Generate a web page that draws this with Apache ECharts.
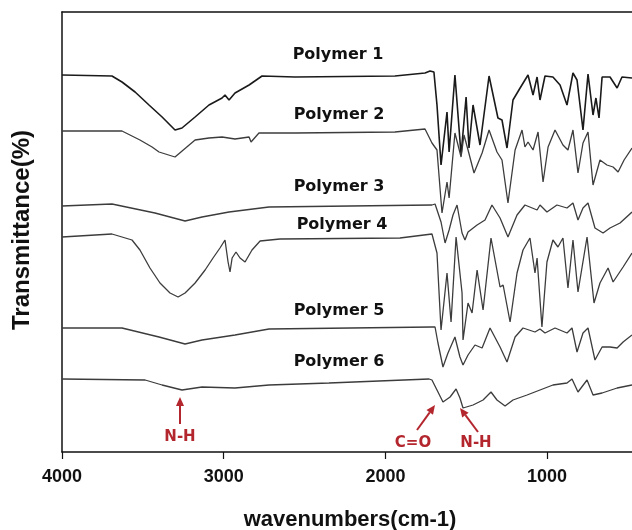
<!DOCTYPE html>
<html>
<head>
<meta charset="utf-8">
<script src="https://cdn.jsdelivr.net/npm/echarts@6/dist/echarts.min.js"></script>
<style>html,body{margin:0;padding:0;background:#fff}#c{width:632px;height:530px}</style>
</head>
<body>
<div id="c"></div>
<script>
// wavenumber (cm-1), relative transmittance (arbitrary offset units)
const polymer1 = [[4000,377],[3691,376],[3629,370],[3548,360],[3462,347],[3381,335],[3301,322],[3258,324],[3177,335],[3091,347],[3010,354],[2992,357],[2967,352],[2930,359],[2843,367],[2763,376],[2559,375],[1941,376],[1755,379],[1724,381],[1700,380],[1681,347],[1656,287],[1619,340],[1606,300],[1570,377],[1532,297],[1501,355],[1483,304],[1458,347],[1415,307],[1359,376],[1304,334],[1279,332],[1248,304],[1211,352],[1167,364],[1118,377],[1087,357],[1062,375],[1044,352],[1013,376],[964,375],[920,367],[877,347],[840,379],[815,372],[778,322],[747,378],[716,337],[698,354],[679,334],[660,375],[611,375],[567,364],[537,375],[475,374]];
const polymer2 = [[4000,321],[3629,321],[3518,312],[3443,305],[3400,300],[3301,295],[3177,312],[3091,314],[3010,315],[2930,313],[2843,315],[2831,310],[2782,319],[2559,319],[1941,320],[1755,323],[1712,309],[1681,302],[1650,239],[1619,270],[1606,254],[1570,319],[1532,295],[1514,317],[1489,302],[1452,279],[1402,299],[1359,322],[1310,300],[1279,292],[1242,249],[1198,302],[1155,322],[1137,305],[1118,310],[1087,302],[1056,320],[1025,270],[994,305],[951,322],[902,307],[871,302],[840,322],[809,279],[778,309],[747,320],[716,267],[673,292],[630,287],[592,285],[561,280],[524,292],[475,304]];
const polymer3 = [[4000,246],[3691,248],[3425,239],[3239,231],[3134,235],[2967,240],[2720,245],[1712,247],[1693,248],[1656,230],[1631,209],[1606,222],[1582,237],[1557,247],[1526,219],[1508,212],[1489,220],[1433,227],[1384,232],[1341,247],[1291,234],[1242,215],[1186,237],[1137,247],[1062,242],[1044,247],[1001,240],[939,247],[877,244],[840,249],[809,232],[778,244],[747,249],[704,224],[654,219],[611,224],[549,229],[475,240]];
const polymer4 = [[4000,215],[3691,218],[3567,212],[3518,202],[3456,184],[3394,169],[3332,159],[3282,155],[3239,159],[3177,169],[3115,182],[3066,194],[3023,204],[2992,212],[2973,190],[2961,180],[2948,194],[2924,200],[2899,194],[2868,190],[2825,202],[2775,211],[2652,213],[1910,214],[1712,218],[1681,199],[1656,122],[1619,179],[1594,130],[1563,215],[1526,159],[1520,112],[1489,149],[1464,139],[1433,182],[1396,142],[1347,214],[1291,165],[1272,167],[1229,130],[1186,179],[1149,202],[1106,214],[1075,179],[1062,194],[1032,125],[1001,190],[964,212],[933,205],[902,214],[871,164],[840,212],[809,160],[753,215],[710,149],[673,169],[623,184],[592,170],[530,185],[475,199]];
const polymer5 = [[4000,124],[3629,124],[3400,115],[3239,108],[3134,112],[2930,117],[2720,123],[1712,125],[1693,125],[1675,109],[1644,85],[1613,99],[1570,115],[1539,95],[1520,87],[1489,97],[1446,107],[1402,104],[1353,124],[1291,105],[1248,90],[1198,115],[1149,124],[1075,120],[1044,123],[1013,119],[951,124],[877,119],[846,124],[815,100],[778,119],[747,124],[704,92],[660,105],[611,105],[567,104],[530,110],[475,117]];
const polymer6 = [[4000,73],[3486,72],[3381,67],[3258,62],[3134,65],[2930,64],[2720,67],[2349,69],[1730,73],[1712,72],[1681,62],[1644,50],[1600,55],[1563,63],[1539,54],[1520,44],[1458,47],[1396,52],[1347,60],[1310,52],[1260,46],[1211,52],[1124,57],[1044,62],[964,67],[877,69],[846,73],[809,60],[753,72],[716,57],[660,59],[567,64],[475,67]];
const xTicks = [1000, 2000, 3000, 4000];
const seriesNames = ['Polymer 1','Polymer 2','Polymer 3','Polymer 4','Polymer 5','Polymer 6'];
const seriesData = [polymer1, polymer2, polymer3, polymer4, polymer5, polymer6];

const chart = echarts.init(document.getElementById('c'), null, {renderer: 'canvas'});
const RED = '#b3262d';
const labelPos = [[338,55],[339,115],[339,187],[342,225],[339,311],[339,362]];
function txt(t, x, y, font, fill, rot) {
  return {type:'text', x:x, y:y, rotation: rot||0, style:{text:t, x:0, y:0, align:'center', verticalAlign:'middle', font:font, fill:fill}};
}
const g2 = [];
seriesNames.forEach((n,i)=>g2.push(txt(n, labelPos[i][0], labelPos[i][1], 'bold 16px "DejaVu Sans"', '#111')));
g2.push(txt('Transmittance(%)', 22, 230, 'bold 24px "Liberation Sans"', '#111', Math.PI/2));
g2.push(txt('wavenumbers(cm-1)', 350, 520, 'bold 22px "Liberation Sans"', '#111'));
g2.push(txt('N-H', 180, 437, 'bold 15px "DejaVu Sans"', RED));
g2.push(txt('C=O', 413, 443, 'bold 15px "DejaVu Sans"', RED));
g2.push(txt('N-H', 476, 443, 'bold 15px "DejaVu Sans"', RED));
function arrow(x1,y1,tx,ty){
  const dx=tx-x1, dy=ty-y1, L=Math.hypot(dx,dy), ux=dx/L, uy=dy/L;
  const bx=tx-9*ux, by=ty-9*uy, px=-uy*4, py=ux*4;
  g2.push({type:'line', shape:{x1:x1,y1:y1,x2:bx,y2:by}, style:{stroke:RED, lineWidth:2}});
  g2.push({type:'polygon', shape:{points:[[tx,ty],[bx+px,by+py],[bx-px,by-py]]}, style:{fill:RED}});
}
arrow(180,424,180,397);
arrow(417,430,435,405);
arrow(478,432,460,408);

const option = {
  animation: false,
  backgroundColor: '#fff',
  grid: {left: 62, top: 12, width: 570, height: 440},
  xAxis: [{
    type: 'value', inverse: true, min: 475, max: 4000,
    axisLine: {show: true, lineStyle: {color: '#111', width: 1.5}},
    axisTick: {show: true, length: 7, lineStyle: {color: '#111', width: 1.2}, customValues: xTicks},
    axisLabel: {customValues: xTicks, formatter: v => String(v), margin: 16, color: '#111', fontSize: 18, fontWeight: 'bold', fontFamily: '"Liberation Sans"'},
    splitLine: {show: false}
  },{
    type: 'value', inverse: true, min: 475, max: 4000, position: 'top',
    axisLine: {show: true, onZero: false, lineStyle: {color: '#111', width: 1.5}},
    axisTick: {show: false}, axisLabel: {show: false}, splitLine: {show: false}
  }],
  yAxis: {
    type: 'value', min: 0, max: 440,
    axisLine: {show: true, lineStyle: {color: '#111', width: 1.5}},
    axisTick: {show: false}, axisLabel: {show: false}, splitLine: {show: false}
  },
  series: seriesData.map((d, i) => ({
    name: seriesNames[i], type: 'line', data: d, xAxisIndex: 0, showSymbol: false, symbol: 'none',
    lineStyle: {color: i === 0 ? '#1a1a1a' : '#3c3c3c', width: i === 0 ? 1.6 : 1.3}
  })),
  graphic: g2
};
chart.setOption(option);
</script>
</body>
</html>
